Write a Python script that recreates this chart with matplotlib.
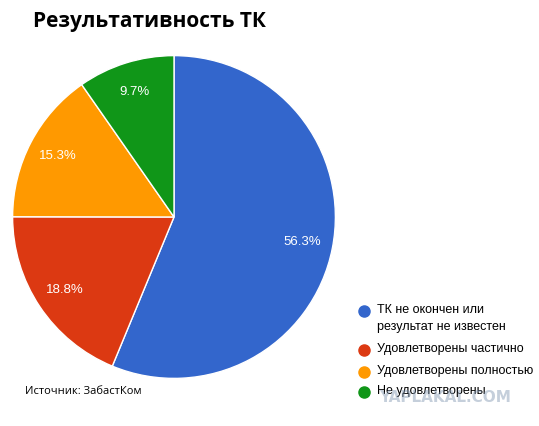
import matplotlib.pyplot as plt
from matplotlib.lines import Line2D

labels = ['ТК не окончен или\nрезультат не известен', 'Удовлетворены частично',
          'Удовлетворены полностью', 'Не удовлетворены']
values = [56.3, 18.8, 15.3, 9.7]
colors = ['#3366cc', '#dc3912', '#ff9900', '#109618']

W, H = 539, 426
fig = plt.figure(figsize=(W / 100, H / 100), dpi=100)

# pie: center (174, 217), radius 163 px
cx, cy, r = 174, 217, 163
ax = fig.add_axes([(cx - r) / W, (H - cy - r) / H, 2 * r / W, 2 * r / H])
wedges, texts = ax.pie(
    values, colors=colors, startangle=90, counterclock=False, radius=1,
    labels=['%.1f%%' % v for v in values], labeldistance=0.81,
    wedgeprops=dict(edgecolor='white', linewidth=1),
    textprops=dict(color='white', fontsize=9.5, family='Liberation Sans',
                   ha='center', va='center'))
ax.set_xlim(-1.01, 1.01)
ax.set_ylim(-1.01, 1.01)
ax.set_aspect('equal')
ax.axis('off')

fig.text(33 / W, 1 - 21 / H, 'Результативность ТК', fontsize=15, fontweight='bold',
         family='Open Sans', va='center', ha='left')
fig.text(25 / W, 1 - 391 / H, 'Источник: ЗабастКом', fontsize=8,
         family='Open Sans', va='center', ha='left')

# legend, drawn by hand so the first marker sits on the first text line
leg_y = [311, 350, 372, 392]
for lab, c, y in zip(labels, colors, leg_y):
    fig.add_artist(Line2D([364 / W], [1 - y / H], marker='o', markersize=8,
                          markerfacecolor=c, markeredgecolor=c,
                          transform=fig.transFigure))
    fig.text(377 / W, 1 - (y - 7) / H, lab, fontsize=9, family='Liberation Sans',
             va='top', ha='left', linespacing=1.55)

fig.text(445 / W, 1 - 397 / H, 'YAPLAKAL.COM', fontsize=11, fontweight='bold',
         color='#7f95b0', alpha=0.45, family='DejaVu Sans', va='center', ha='center')

fig.savefig('out.png', dpi=100)
